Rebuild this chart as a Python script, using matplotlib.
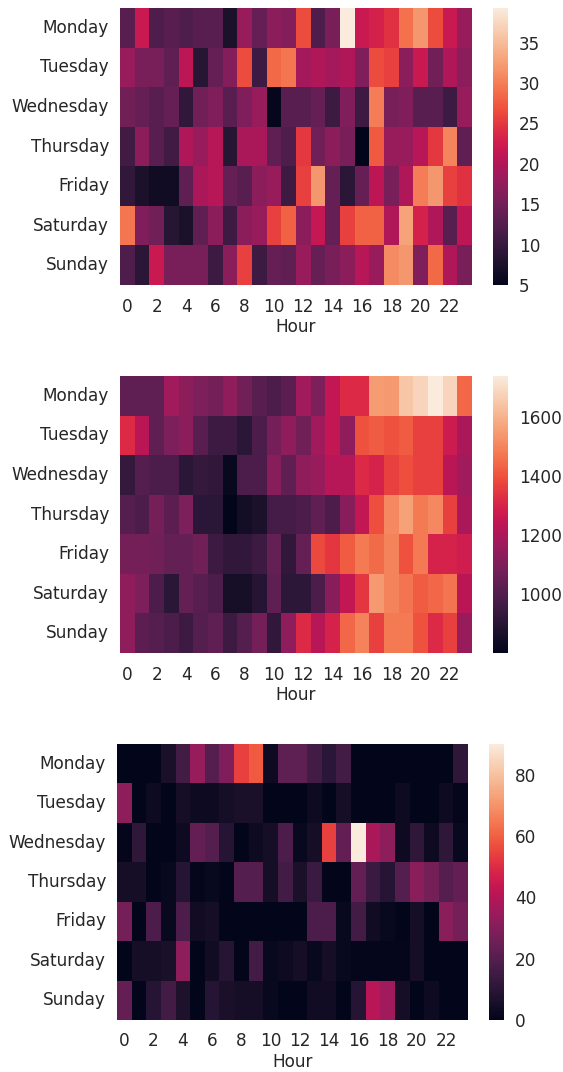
import numpy as np
import pandas as pd
import matplotlib
matplotlib.use("Agg")
import matplotlib.pyplot as plt
import seaborn as sns

# Data
days = ["Monday", "Tuesday", "Wednesday", "Thursday", "Friday", "Saturday", "Sunday"]
hours = list(range(24))

panel1 = [
    [13, 22, 12, 13, 12, 13, 13, 7.5, 18, 14, 17, 16.5, 26.5, 12, 15.5, 39.3, 22, 23, 24.5, 29, 32, 26.5, 22, 18],
    [18, 15.5, 15.5, 13.5, 21, 8.5, 14, 16.5, 26.5, 10.5, 28.5, 29.5, 19, 20, 19, 20, 16, 26.5, 25.5, 17, 22, 15, 20, 17],
    [15, 14, 13, 14, 9.5, 15, 16, 13, 16, 18, 5.5, 13, 13, 14, 10.5, 16, 10.5, 30, 15.5, 16, 13, 13, 10.5, 18],
    [11, 17, 13, 11, 20, 18, 20.5, 8.5, 19.5, 19.5, 13.5, 12, 25, 15, 17, 15.5, 5, 27.5, 18, 18, 20.5, 25, 30.5, 13.5],
    [9.5, 7.5, 6.5, 6.5, 13.5, 19.5, 20.5, 14, 13, 17, 18, 10.5, 25.5, 32, 14, 9, 14, 21, 15.5, 20, 30, 32, 25.5, 24.5],
    [29.5, 16, 15, 8.5, 7.5, 13.5, 17, 10.5, 17, 18, 25.5, 28, 17, 21.5, 14, 25.5, 28, 28, 20, 33, 23, 20, 13, 21],
    [12, 9, 22, 15.5, 15.5, 15.5, 10.5, 17, 25.5, 10.5, 14, 13.5, 18, 14, 15.5, 17, 20.5, 18, 31, 32, 16, 28.5, 20, 15.5],
]

panel2 = [
    [1036, 1036, 1036, 1177, 1130, 1102, 1083, 1139, 1074, 1017, 989, 1027, 1177, 1102, 1252, 1317, 1317, 1552, 1542, 1645, 1683, 1739, 1683, 1439],
    [1317, 1233, 1036, 1102, 1130, 1017, 952, 952, 905, 989, 1083, 1139, 1074, 1177, 1252, 1139, 1402, 1420, 1402, 1420, 1364, 1364, 1271, 1196],
    [933, 1008, 989, 989, 905, 933, 924, 821, 989, 989, 1121, 1036, 1139, 1158, 1224, 1224, 1317, 1299, 1364, 1392, 1364, 1364, 1233, 1177],
    [1008, 989, 1083, 1027, 1102, 905, 905, 802, 849, 868, 971, 971, 989, 1036, 989, 1121, 1252, 1392, 1505, 1561, 1477, 1505, 1364, 1196],
    [1083, 1083, 1074, 1046, 1046, 1074, 952, 924, 924, 952, 1046, 924, 1046, 1383, 1345, 1420, 1477, 1449, 1495, 1402, 1477, 1299, 1299, 1280],
    [1139, 1102, 989, 905, 1046, 1017, 989, 858, 858, 896, 1036, 914, 914, 989, 1121, 1252, 1345, 1542, 1495, 1467, 1420, 1439, 1467, 1233],
    [1139, 1027, 1008, 989, 952, 1008, 1036, 952, 1008, 1083, 924, 1139, 1317, 1224, 1299, 1439, 1495, 1364, 1477, 1477, 1402, 1317, 1364, 1158],
]

panel3 = [
    [0, 0, 0, 6, 16, 34, 20, 29, 54, 59, 3, 22, 22, 16, 10, 16, 0, 0, 0, 0, 0, 0, 0, 11],
    [32, 0, 3, 0, 5, 3, 3, 5, 6, 6, 0, 0, 0, 3, 0, 5, 0, 0, 0, 3, 0, 0, 3, 1],
    [1, 11, 0, 0, 3, 23, 20, 9, 0, 3, 5, 18, 2, 5, 54, 23, 90, 38, 32, 3, 11, 3, 11, 2],
    [5, 5, 0, 2, 9, 1, 2, 0, 20, 20, 5, 16, 6, 14, 0, 0, 23, 14, 9, 20, 31, 27, 20, 23],
    [27, 0, 18, 2, 18, 4, 5, 0, 0, 0, 0, 0, 0, 18, 18, 2, 16, 4, 2, 0, 5, 0, 31, 27],
    [0, 5, 5, 6, 32, 0, 4, 9, 0, 16, 2, 3, 5, 2, 5, 2, 1, 1, 1, 1, 5, 0, 0, 0],
    [23, 0, 9, 16, 7, 0, 9, 6, 5, 5, 2, 0, 0, 4, 4, 0, 9, 41, 36, 5, 0, 3, 0, 0],
]

sns.set_theme(style="white")
plt.rcParams['font.family'] = ['DejaVu Sans']

W, H = 563, 1072
fig = plt.figure(figsize=(W / 100, H / 100), dpi=100)

# pixel boxes: (left, top, right, bottom) for heatmap and colorbar
layout = [
    (panel1, (120, 8, 472, 285), (493, 8, 508, 285)),
    (panel2, (120, 376, 472, 653), (493, 376, 508, 653)),
    (panel3, (117, 744, 468, 1020), (489, 744, 504, 1020)),
]


def px_box(b):
    l, t, r, btm = b
    return [l / W, 1 - btm / H, (r - l) / W, (btm - t) / H]


for values, hbox, cbox in layout:
    df = pd.DataFrame(values, index=days, columns=hours)
    ax = fig.add_axes(px_box(hbox))
    cax = fig.add_axes(px_box(cbox))
    sns.heatmap(df, ax=ax, cbar_ax=cax, xticklabels=2, yticklabels=True)
    ax.set_xlabel("Hour", fontsize=12.2, color=".15", labelpad=1.5)
    ax.set_ylabel("")
    ax.tick_params(length=0, labelsize=12.2, colors=".15")
    ax.tick_params(axis="x", pad=9)
    ax.tick_params(axis="y", pad=8)
    ax.set_yticklabels(days, rotation=0)
    ax.set_xticklabels(ax.get_xticklabels(), rotation=0)
    cax.tick_params(length=0, pad=8, labelsize=12.2, colors=".15")

fig.savefig("out.png", dpi=100)
